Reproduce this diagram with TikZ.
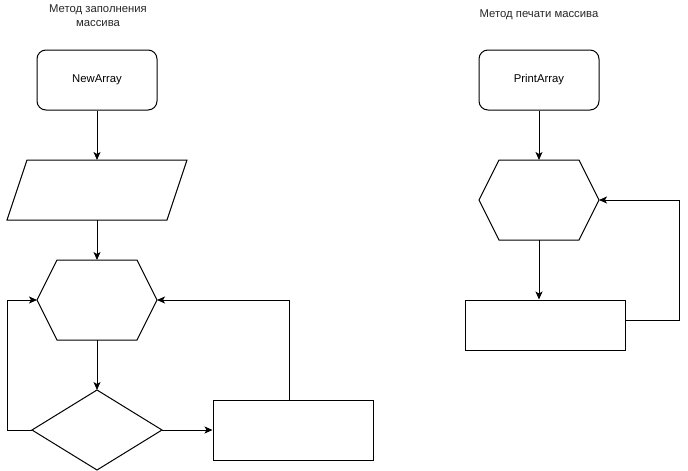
\documentclass[tikz,border=0pt]{standalone}
\usepackage{fontspec}
\setmainfont{Liberation Sans}
\usetikzlibrary{arrows.meta,calc}
\begin{document}
\begin{tikzpicture}[x=1pt,y=-1pt,line width=1pt,
  font=\fontsize{11.3}{14}\selectfont,
  area/.style={draw=none,inner sep=0pt,outer sep=0pt},
  startbox/.style={draw,rounded corners=9pt,inner sep=0pt,minimum width=120pt,minimum height=60pt},
  plainbox/.style={draw,inner sep=0pt},
  title/.style={align=center,text=black!85,inner sep=0pt},
  arr/.style={-{Stealth[length=8pt,width=7pt,inset=2pt]}}]
\useasboundingbox (0,0) rectangle (688,471);
% titles
\node[title] (t1) at (98,15.5) {Метод заполнения\\массива};
\node[title] (t2) at (539,15) {Метод печати массива};
% left column
\node[startbox] (new) at (97,80) {NewArray};
\node[area,minimum width=180pt,minimum height=60pt] (io) at (97,190) {};
\draw ($(io.north west)+(20,0)$) -- (io.north east) -- ($(io.south east)+(-20,0)$) -- (io.south west) -- cycle;
\node[area,minimum width=120pt,minimum height=80pt] (loop1) at (97,300) {};
\draw (loop1.west) -- ($(loop1.north west)+(20,0)$) -- ($(loop1.north east)+(-20,0)$) -- (loop1.east) -- ($(loop1.south east)+(-20,0)$) -- ($(loop1.south west)+(20,0)$) -- cycle;
\node[area,minimum width=130pt,minimum height=80pt] (cond) at (97,430) {};
\draw (cond.north) -- (cond.east) -- (cond.south) -- (cond.west) -- cycle;
\node[plainbox,minimum width=160pt,minimum height=60pt] (body1) at (293,430) {};
\draw[arr] (new.south) -- (io.north);
\draw[arr] (io.south) -- (loop1.north);
\draw[arr] (loop1.south) -- (cond.north);
\draw[arr] (cond.east) -- (body1.west);
\draw[arr] ([xshift=-4pt]body1.north) |- (loop1.east);
\draw[arr] (cond.west) -- ++(-25,0) |- (loop1.west);
% right column
\node[startbox] (print) at (539,80) {PrintArray};
\node[area,minimum width=120pt,minimum height=80pt] (loop2) at (539,200) {};
\draw (loop2.west) -- ($(loop2.north west)+(20,0)$) -- ($(loop2.north east)+(-20,0)$) -- (loop2.east) -- ($(loop2.south east)+(-20,0)$) -- ($(loop2.south west)+(20,0)$) -- cycle;
\node[plainbox,minimum width=160pt,minimum height=50pt] (body2) at (545,325) {};
\draw[arr] (print.south) -- (loop2.north);
\draw[arr] (loop2.south) -- (loop2.south |- body2.north);
\draw[arr] ([yshift=5pt]body2.east) -- ++(54,0) |- (loop2.east);
\end{tikzpicture}
\end{document}
